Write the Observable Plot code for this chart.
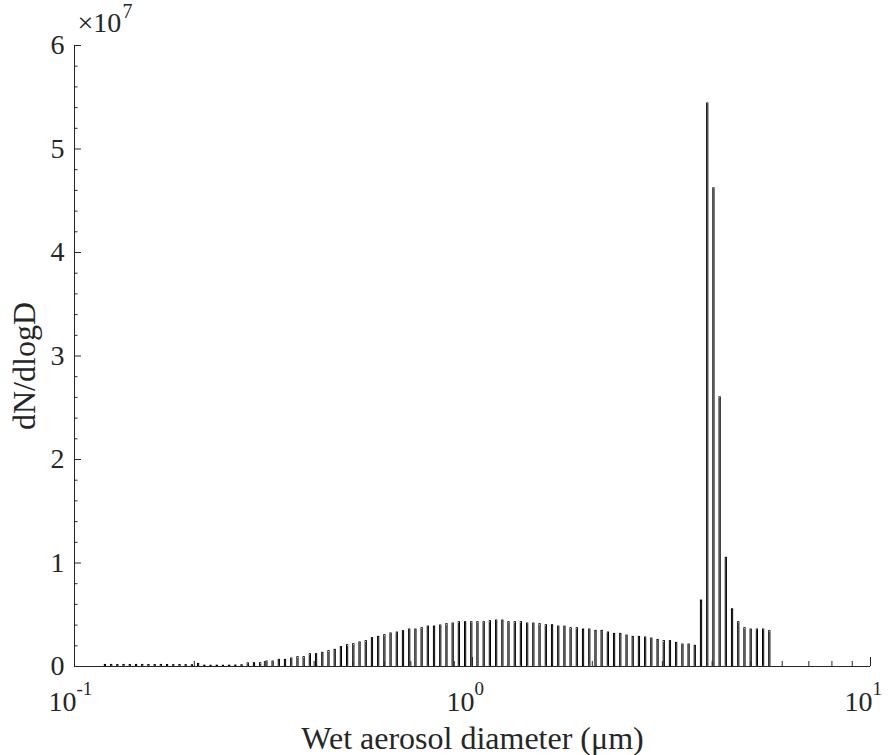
<!DOCTYPE html>
<html>
<head>
<meta charset="utf-8">
<script src="https://cdn.jsdelivr.net/npm/d3@7"></script>
<script src="https://cdn.jsdelivr.net/npm/@observablehq/plot@0.6"></script>
<style>
  html, body { margin: 0; padding: 0; background: #ffffff; }
  #chart svg { display: block; }
</style>
</head>
<body>
<div id="chart"></div>
<script>
// Bin centres: wet aerosol diameter (µm)
const diameters = [
  0.1196, 0.1240, 0.1285, 0.1332, 0.1381, 0.1432, 0.1484, 0.1538, 0.1595, 0.1653,
  0.1713, 0.1776, 0.1841, 0.1908, 0.1978, 0.2050, 0.2125, 0.2203, 0.2284, 0.2367,
  0.2454, 0.2543, 0.2636, 0.2733, 0.2833, 0.2936, 0.3044, 0.3155, 0.3271, 0.3390,
  0.3514, 0.3643, 0.3776, 0.3914, 0.4057, 0.4206, 0.4359, 0.4519, 0.4684, 0.4855,
  0.5033, 0.5217, 0.5408, 0.5606, 0.5811, 0.6023, 0.6243, 0.6472, 0.6708, 0.6954,
  0.7208, 0.7472, 0.7745, 0.8028, 0.8322, 0.8626, 0.8942, 0.9269, 0.9608, 0.9959,
  1.032, 1.070, 1.109, 1.150, 1.192, 1.235, 1.281, 1.327, 1.376, 1.426,
  1.478, 1.533, 1.589, 1.647, 1.707, 1.769, 1.834, 1.901, 1.971, 2.043,
  2.117, 2.195, 2.275, 2.358, 2.445, 2.534, 2.627, 2.723, 2.822, 2.926,
  3.033, 3.143, 3.258, 3.378, 3.501, 3.629, 3.762, 3.900, 4.042, 4.190,
  4.343, 4.502, 4.667, 4.837, 5.014, 5.198, 5.388, 5.585
];

// dN/dlogD in millions (×10^6)
const dNdlogDMillions = [
  0.15, 0.15, 0.14, 0.15, 0.14, 0.15, 0.15, 0.14, 0.14, 0.15,
  0.14, 0.13, 0.14, 0.13, 0.12, 0.25, 0.08, 0.07, 0.08, 0.07,
  0.08, 0.09, 0.12, 0.30,
  0.32, 0.32, 0.48, 0.48, 0.64, 0.64, 0.77, 0.90, 0.90, 1.19,
  1.19, 1.32, 1.48, 1.61, 1.87, 2.06, 2.16, 2.32, 2.45, 2.74,
  2.86, 3.03, 3.19, 3.28, 3.41, 3.57,
  3.57, 3.70, 3.86, 3.86, 3.96, 4.09, 4.15, 4.28, 4.28, 4.28,
  4.28, 4.28, 4.38, 4.44, 4.44, 4.28, 4.28, 4.28, 4.15, 4.15,
  4.09, 3.99, 3.99, 3.86, 3.85,
  3.70, 3.70, 3.57, 3.57, 3.44, 3.44, 3.28, 3.15, 3.15, 2.99,
  2.86, 2.86, 2.80, 2.70, 2.57, 2.45, 2.45, 2.28, 2.12, 2.12, 2.00,
  6.37, 54.4, 46.2, 26.0, 10.5, 5.53, 4.28, 3.70, 3.57, 3.57, 3.57, 3.41
];

const xTickValues = [0.1, 1, 10];
const xTickBase = ["10", "10", "10"];
const xTickExponents = ["-1", "0", "1"];
const xMinorTicks = [0.2, 0.3, 0.4, 0.5, 0.6, 0.7, 0.8, 0.9, 2, 3, 4, 5, 6, 7, 8, 9];

const yTickValues = [0, 1e7, 2e7, 3e7, 4e7, 5e7, 6e7];
const yTickLabels = ["0", "1", "2", "3", "4", "5", "6"];
const yMinorTicks = [
  0.2e7, 0.4e7, 0.6e7, 0.8e7, 1.2e7, 1.4e7, 1.6e7, 1.8e7,
  2.2e7, 2.4e7, 2.6e7, 2.8e7, 3.2e7, 3.4e7, 3.6e7, 3.8e7,
  4.2e7, 4.4e7, 4.6e7, 4.8e7, 5.2e7, 5.4e7, 5.6e7, 5.8e7
];

const xLabel = "Wet aerosol diameter (\u03bcm)";
const yLabel = "dN/dlogD";
const yExponentBase = "\u00d710";
const yExponent = "7";

// layout
const W = 889, H = 755;
const mTop = 45, mRight = 19, mBottom = 89, mLeft = 74;
const plotH = H - mTop - mBottom;
const plotW = W - mLeft - mRight;
const yDomain = [0, 6e7];
const xDomain = [0.1, 10];
const yPerPx = (yDomain[1] - yDomain[0]) / plotH;
const logPerPx = Math.log10(xDomain[1] / xDomain[0]) / plotW;
const halfBarPx = 0.6;
const axisColor = "#262626";
const font = "'Liberation Serif', 'Times New Roman', Times, serif";

const bars = diameters.map((d, i) => ({ d, v: dNdlogDMillions[i] * 1e6 }));

const chart = Plot.plot({
  width: W,
  height: H,
  marginTop: mTop,
  marginRight: mRight,
  marginBottom: mBottom,
  marginLeft: mLeft,
  style: { fontFamily: font, background: "#ffffff", overflow: "visible" },
  x: { type: "log", domain: xDomain, axis: null },
  y: { domain: yDomain, axis: null },
  marks: [
    Plot.rect(bars, {
      x1: (b) => b.d * Math.pow(10, -halfBarPx * logPerPx),
      x2: (b) => b.d * Math.pow(10, halfBarPx * logPerPx),
      y1: 0,
      y2: (b) => b.v,
      fill: "#ffffff",
      stroke: "#000000",
      strokeWidth: 1
    }),
    // axis lines
    Plot.ruleY([0], { stroke: axisColor, strokeWidth: 1 }),
    Plot.ruleX([xDomain[0]], { stroke: axisColor, strokeWidth: 1 }),
    // x ticks (inward)
    Plot.ruleX(xTickValues, { x: (d) => d, y1: 0, y2: 9 * yPerPx, stroke: axisColor }),
    Plot.ruleX(xMinorTicks, { x: (d) => d, y1: 0, y2: 5 * yPerPx, stroke: axisColor }),
    // y ticks (inward)
    Plot.ruleY(yTickValues, { y: (d) => d, x1: xDomain[0], x2: xDomain[0] * Math.pow(10, 7 * logPerPx), stroke: axisColor }),
    Plot.ruleY(yMinorTicks, { y: (d) => d, x1: xDomain[0], x2: xDomain[0] * Math.pow(10, 3.5 * logPerPx), stroke: axisColor }),
    // y tick labels
    Plot.text(yTickValues, {
      x: xDomain[0], y: (d) => d, text: (d, i) => yTickLabels[i],
      textAnchor: "end", dx: -10, fontSize: 28, fill: axisColor
    }),
    // x tick labels: base and superscript exponent
    Plot.text(xTickValues, {
      x: (d) => d, y: 0, text: (d, i) => xTickBase[i],
      textAnchor: "end", lineAnchor: "bottom",
      dx: 2, dy: 44, fontSize: 28, fill: axisColor
    }),
    Plot.text(xTickValues, {
      x: (d) => d, y: 0, text: (d, i) => xTickExponents[i],
      textAnchor: "start", lineAnchor: "bottom",
      dx: 2, dy: 28, fontSize: 19, fill: axisColor
    }),
    // ×10^7
    Plot.text([yExponentBase], {
      frameAnchor: "top-left", text: (d) => d,
      textAnchor: "start", lineAnchor: "bottom",
      dx: 3, dy: -14, fontSize: 28, fill: axisColor
    }),
    Plot.text([yExponent], {
      frameAnchor: "top-left", text: (d) => d,
      textAnchor: "start", lineAnchor: "bottom",
      dx: 48, dy: -28, fontSize: 20, fill: axisColor
    }),
    // axis titles
    Plot.text([xLabel], {
      frameAnchor: "bottom", text: (d) => d,
      textAnchor: "middle", lineAnchor: "bottom",
      dy: 82, fontSize: 32, fill: axisColor
    }),
    Plot.text([yLabel], {
      frameAnchor: "left", text: (d) => d,
      textAnchor: "middle", lineAnchor: "bottom",
      rotate: -90, dx: -40, dy: 10, fontSize: 32, fill: axisColor
    })
  ]
});

document.getElementById("chart").appendChild(chart);
</script>
</body>
</html>
